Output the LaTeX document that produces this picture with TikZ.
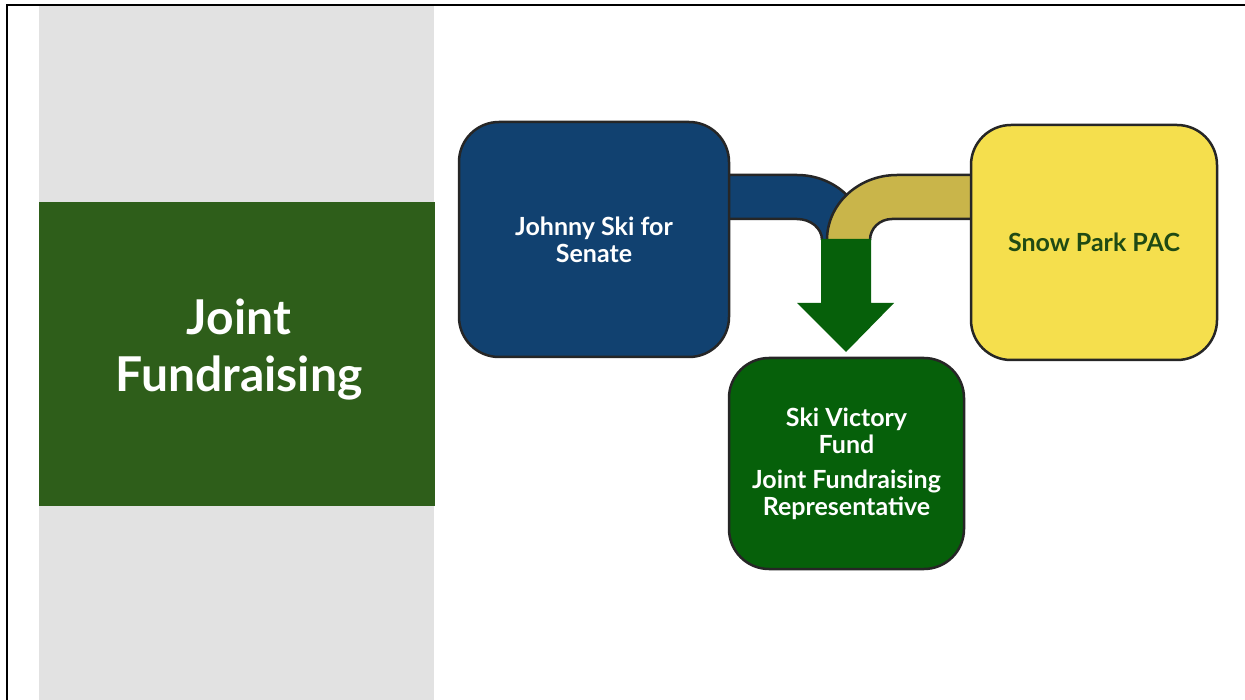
\documentclass[tikz,border=0pt]{standalone}
\usepackage{fontspec}
\setmainfont{Lato}
\definecolor{skiblue}{RGB}{17,65,112}
\definecolor{parkyellow}{RGB}{245,223,77}
\definecolor{bandgold}{RGB}{201,181,74}
\definecolor{fundgreen}{RGB}{6,96,10}
\definecolor{titlegreen}{RGB}{46,94,26}
\definecolor{panelgray}{RGB}{226,226,226}
\definecolor{edgegray}{RGB}{38,38,38}
\definecolor{pactext}{RGB}{31,74,20}
\tikzset{
  orgbox/.style={draw=edgegray, line width=2.5pt, rounded corners=40pt,
    align=center, inner sep=0pt, font=\bfseries\fontsize{25}{27}\selectfont},
  bandedge/.style={draw=edgegray, line width=2.5pt},
}
\begin{document}
\begin{tikzpicture}[x=1pt, y=-1pt]
  \useasboundingbox (0,0) rectangle (1245,700);
  \fill[white] (0,0) rectangle (1245,700);

  % side panel with title
  \fill[panelgray] (39,6) rectangle (434,700);
  \fill[titlegreen] (39,202) rectangle (435,506);
  \node[text=white, align=center, font=\bfseries\fontsize{48}{57}\selectfont]
    (title) at (239,350) {Joint\\Fundraising};

  % slide frame
  \draw[line width=2pt] (7,700) -- (7,5) -- (1245,5);

  % blue flow band
  \fill[skiblue] (729,175) -- (797,175)
    arc[start angle=-90, end angle=0, x radius=69, y radius=65]
    -- (822,240)
    arc[start angle=0, end angle=-90, x radius=25, y radius=21]
    -- (729,219) -- cycle;
  \draw[bandedge] (729,175) -- (797,175)
    arc[start angle=-90, end angle=0, x radius=69, y radius=65];
  \draw[bandedge] (729,219) -- (797,219)
    arc[start angle=-90, end angle=0, x radius=25, y radius=21];

  % gold flow band
  \fill[bandgold] (971,175) -- (897,175)
    arc[start angle=-90, end angle=-180, x radius=70, y radius=65]
    -- (870,240)
    arc[start angle=-180, end angle=-90, x radius=22, y radius=21]
    -- (971,219) -- cycle;
  \draw[bandedge] (971,175) -- (897,175)
    arc[start angle=-90, end angle=-180, x radius=70, y radius=65];
  \draw[bandedge] (971,219) -- (892,219)
    arc[start angle=-90, end angle=-180, x radius=22, y radius=21];

  % committees
  \node[orgbox, fill=skiblue, text=white, minimum width=270pt, minimum height=235pt]
    (senate) at (594,239.5) {Johnny Ski for\\Senate};
  \node[orgbox, fill=parkyellow, text=pactext, minimum width=246pt, minimum height=235pt]
    (pac) at (1094,242.5) {Snow Park PAC};
  \node[orgbox, fill=fundgreen, text=white, minimum width=235pt, minimum height=211pt]
    (fund) at (846.5,463.5) {Ski Victory\\Fund\\[8pt]Joint Fundraising\\Representative};

  % downward arrow into the fund
  \fill[fundgreen] (821,239) -- (871,239) -- (871,303) -- (894,303)
    -- (846,352) -- (797,303) -- (821,303) -- cycle;
\end{tikzpicture}
\end{document}
